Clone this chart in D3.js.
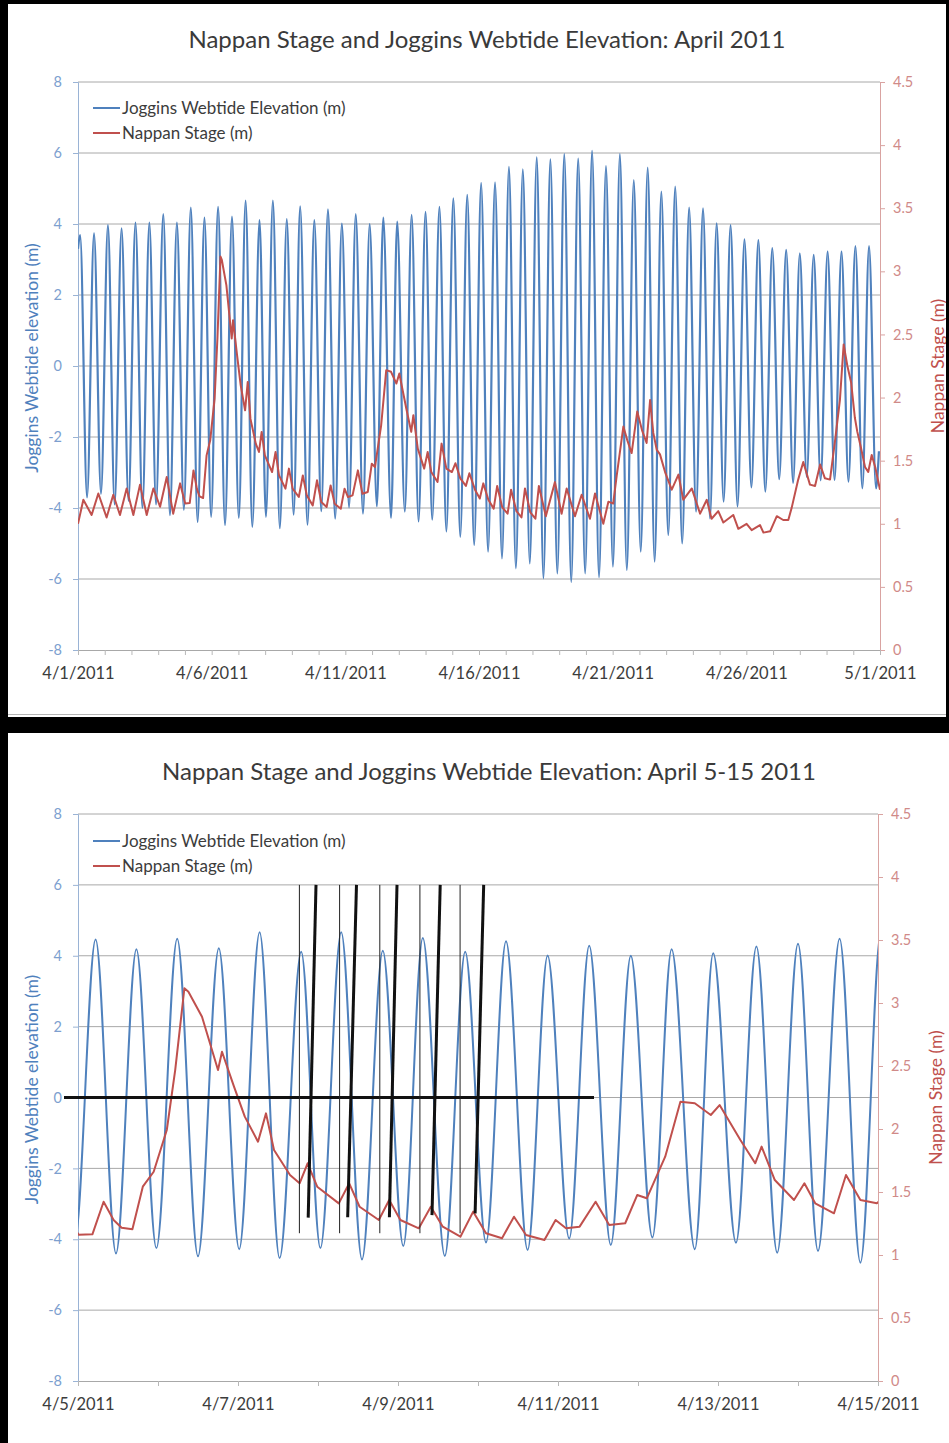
<!DOCTYPE html>
<html>
<head>
<meta charset="utf-8">
<script src="https://cdn.jsdelivr.net/npm/d3@7"></script>
<style>
  html, body { margin: 0; padding: 0; background: #ffffff; }
  svg { display: block; font-family: Lato, "Open Sans", sans-serif; }
</style>
</head>
<body>
<svg id="chart" width="949" height="1443"></svg>
<script>
// ---- Joggins Webtide: high and low water (days after 4/1/2011 00:00, metres) ----
const highTideDays = [0.08,0.60,1.12,1.63,2.15,2.67,3.19,3.70,4.22,4.73,5.24,5.76,6.27,6.79,7.29,7.81,8.31,8.84,9.35,9.87,10.39,10.91,11.42,11.94,12.48,13.00,13.52,14.04,14.56,15.08,15.60,16.12,16.64,17.16,17.67,18.19,18.71,19.23,19.75,20.27,20.79,21.31,21.82,22.34,22.86,23.38,23.89,24.41,24.93,25.45,25.97,26.49,27.00,27.52,28.04,28.56,29.08,29.59];
const highTideElev = [3.69,3.74,3.97,3.88,4.04,4.04,4.28,4.04,4.46,4.18,4.48,4.21,4.66,4.11,4.66,4.14,4.50,4.11,4.41,4.01,4.28,4.00,4.18,4.07,4.26,4.34,4.48,4.72,4.82,5.16,5.17,5.61,5.54,5.88,5.82,5.97,5.84,6.06,5.63,5.97,5.24,5.59,4.91,5.05,4.46,4.44,4.02,3.97,3.57,3.55,3.32,3.27,3.17,3.13,3.22,3.22,3.38,3.38];
const lowTideDays = [0.34,0.86,1.37,1.89,2.41,2.92,3.44,3.96,4.475,4.98,5.50,6.015,6.52,7.03,7.55,8.066,8.585,9.10,9.62,10.14,10.66,11.18,11.71,12.225,12.74,13.25,13.78,14.30,14.82,15.34,15.86,16.38,16.90,17.41,17.93,18.45,18.97,19.49,20.01,20.53,21.05,21.57,22.08,22.60,23.12,23.64,24.15,24.67,25.19,25.71,26.23,26.75,27.26,27.78,28.30,28.82,29.34,29.85];
const lowTideElev = [-3.70,-3.60,-3.90,-3.80,-4.00,-3.90,-4.20,-4.05,-4.40,-4.25,-4.48,-4.28,-4.53,-4.25,-4.57,-4.19,-4.47,-4.09,-4.30,-3.98,-4.16,-3.95,-4.28,-4.10,-4.38,-4.33,-4.66,-4.81,-5.04,-5.23,-5.42,-5.70,-5.56,-5.98,-5.84,-6.08,-5.84,-5.95,-5.65,-5.75,-5.23,-5.51,-4.76,-5.00,-4.10,-4.29,-3.82,-3.96,-3.42,-3.54,-3.19,-3.29,-3.12,-3.22,-3.21,-3.26,-3.45,-3.45];
// first and last record of the month
const tideEdgeDays = [0.00, 29.96];
const tideEdgeElev = [3.30, -2.40];

// ---- Nappan River stage (days after 4/1/2011 00:00, metres) ----
const stageDays = [0.00,0.20,0.51,0.76,1.07,1.32,1.57,1.82,2.07,2.32,2.57,2.82,3.07,3.32,3.56,3.82,
  4.01,4.18,4.32,4.445,4.545,4.68,4.81,4.946,5.11,5.215,5.33,5.38,5.55,5.75,5.80,5.95,6.085,6.25,6.35,6.45,6.65,6.77,6.87,6.99,
  7.26,7.39,7.52,7.76,7.89,8.03,8.26,8.41,8.56,8.78,8.94,9.10,9.30,9.45,9.60,9.83,9.97,10.10,10.27,10.47,10.64,10.84,10.99,11.11,
  11.34,11.53,11.71,11.91,12.02,12.28,12.465,12.545,12.71,12.95,13.08,13.215,13.45,13.60,13.78,13.985,
  14.12,14.30,14.51,14.64,14.85,15.03,15.16,15.35,15.55,15.68,15.87,16.07,16.20,16.40,16.59,16.72,16.92,17.11,17.24,17.50,17.84,
  18.09,18.28,18.59,18.84,19.15,19.34,19.65,19.84,20.02,20.15,20.40,20.55,20.71,20.92,21.10,21.27,21.40,21.52,21.65,21.77,21.96,
  22.21,22.46,22.64,22.96,23.27,23.52,23.70,23.95,24.14,24.51,24.70,25.01,25.20,25.51,25.64,25.89,26.14,26.38,26.57,26.70,26.94,
  27.13,27.38,27.57,27.76,27.94,28.13,28.32,28.50,28.64,28.78,28.92,29.06,29.15,29.28,29.44,29.56,29.69,29.82,30.00];
const stageValues = [1.00,1.19,1.07,1.24,1.05,1.23,1.07,1.28,1.07,1.31,1.07,1.28,1.135,1.37,1.08,1.32,
  1.16,1.164,1.423,1.278,1.217,1.204,1.542,1.661,1.992,2.468,3.117,3.09,2.891,2.468,2.613,2.336,2.098,1.899,2.124,1.833,1.635,1.569,1.728,1.542,
  1.410,1.569,1.383,1.278,1.437,1.278,1.212,1.383,1.225,1.145,1.344,1.172,1.133,1.304,1.159,1.119,1.278,1.212,1.225,1.423,1.238,1.252,1.476,1.45,
  1.78,2.217,2.204,2.111,2.19,1.913,1.728,1.86,1.595,1.437,1.569,1.41,1.331,1.635,1.437,1.41,
  1.48,1.36,1.30,1.40,1.27,1.20,1.32,1.19,1.12,1.30,1.13,1.08,1.27,1.10,1.05,1.28,1.09,1.04,1.30,1.06,1.33,
  1.08,1.28,1.06,1.23,1.04,1.24,1.00,1.175,1.16,1.38,1.77,1.66,1.56,1.89,1.74,1.64,1.98,1.72,1.585,1.55,1.41,
  1.27,1.39,1.19,1.28,1.08,1.19,1.04,1.10,1.01,1.07,0.96,1.00,0.95,0.99,0.93,0.94,1.06,1.03,1.03,1.13,1.35,
  1.49,1.31,1.30,1.47,1.36,1.35,1.66,1.98,2.42,2.25,2.12,1.84,1.73,1.61,1.45,1.41,1.545,1.45,1.27];

// ---- axes ----
const elevTicks = [-8, -6, -4, -2, 0, 2, 4, 6, 8];
const stageTicks = [0, 0.5, 1, 1.5, 2, 2.5, 3, 3.5, 4, 4.5];
const monthTickDays = [0, 5, 10, 15, 20, 25, 30];
const monthTickLabels = ["4/1/2011", "4/6/2011", "4/11/2011", "4/16/2011", "4/21/2011", "4/26/2011", "5/1/2011"];
const detailTickDays = [4, 6, 8, 10, 12, 14];
const detailTickLabels = ["4/5/2011", "4/7/2011", "4/9/2011", "4/11/2011", "4/13/2011", "4/15/2011"];

// ---- hand-drawn markers on the 5-15 April panel ----
const highWaterMarkDays = [6.7675, 7.27, 7.7725, 8.274, 8.776];       // thin verticals
const highWaterMarkElev = [6, -3.83];
const stagePeakTopDays = [6.975, 7.481, 7.9875, 8.5275, 9.071];        // thick leaning lines
const stagePeakBottomDays = [6.8775, 7.371, 7.8925, 8.425, 8.964];
const stagePeakBottomElev = [-3.39, -3.38, -3.38, -3.32, -3.27];
const stagePeakTopElev = 6;
const zeroLineDays = [3.825, 10.45];

const seriesNames = ["Joggins Webtide Elevation (m)", "Nappan Stage (m)"];
const BLUE = "#4f81bd", RED = "#c0504d";
const FONT = "Lato, 'Open Sans', sans-serif";

// tide record: edges plus alternating high and low waters, in time order
const tidePoints = [];
tideEdgeDays.forEach((d, i) => tidePoints.push({ d, v: tideEdgeElev[i] }));
highTideDays.forEach((d, i) => tidePoints.push({ d, v: highTideElev[i] }));
lowTideDays.forEach((d, i) => tidePoints.push({ d, v: lowTideElev[i] }));
tidePoints.sort((a, b) => a.d - b.d);
const stagePoints = stageDays.map((d, i) => ({ d, v: stageValues[i] }));

const svg = d3.select("#chart");
svg.append("rect").attr("x", 0).attr("y", 0).attr("width", 949).attr("height", 1443).attr("fill", "#ffffff");

function drawPanel(cfg, idx) {
  const x = d3.scaleLinear().domain(cfg.days).range([cfg.left, cfg.right]);
  const yL = d3.scaleLinear().domain([-8, 8]).range([cfg.bottom, cfg.top]);
  const yR = d3.scaleLinear().domain([0, 4.5]).range([cfg.bottom, cfg.top]);
  const g = svg.append("g");

  g.append("text")
    .attr("x", cfg.titleX).attr("y", cfg.titleY)
    .attr("text-anchor", "middle")
    .attr("font-size", 24).attr("fill", "#3a3a3a")
    .text(cfg.title);

  // horizontal gridlines
  g.append("g").selectAll("line").data(elevTicks.slice(1)).join("line")
    .attr("x1", cfg.left).attr("x2", cfg.right)
    .attr("y1", d => yL(d)).attr("y2", d => yL(d))
    .attr("stroke", "#a8a8a8").attr("stroke-width", 1);

  // left axis (elevation)
  const la = g.append("g").attr("transform", `translate(${cfg.left},0)`)
    .call(d3.axisLeft(yL).tickValues(elevTicks).tickSize(5).tickPadding(11)
      .tickFormat(d => String(d)));
  la.select(".domain").attr("stroke", "#9ab3d5");
  la.selectAll(".tick line").attr("stroke", "#9ab3d5");
  la.selectAll(".tick text").attr("font-size", 14.5).attr("fill", "#7d9fcf")
    .attr("font-family", FONT);

  // right axis (stage)
  const ra = g.append("g").attr("transform", `translate(${cfg.right},0)`)
    .call(d3.axisRight(yR).tickValues(stageTicks).tickSize(5).tickPadding(8)
      .tickFormat(d => String(d)));
  ra.select(".domain").attr("stroke", "#d9a3a1");
  ra.selectAll(".tick line").attr("stroke", "#d9a3a1");
  ra.selectAll(".tick text").attr("font-size", 14.5).attr("fill", "#d08a88")
    .attr("font-family", FONT);

  // bottom axis: daily ticks, dated labels
  const dayTicks = d3.range(cfg.days[0], cfg.days[1] + 1);
  const ba = g.append("g").attr("transform", `translate(0,${cfg.bottom})`)
    .call(d3.axisBottom(x).tickValues(dayTicks).tickSize(5).tickFormat(""));
  ba.select(".domain").attr("stroke", "#a8a8a8");
  ba.selectAll(".tick line").attr("stroke", "#b8b8b8");
  const lab = g.append("g").attr("transform", `translate(0,${cfg.bottom})`)
    .call(d3.axisBottom(x).tickValues(cfg.tickDays).tickSize(0).tickPadding(17)
      .tickFormat((d, i) => cfg.tickLabels[i]));
  lab.select(".domain").remove();
  lab.selectAll(".tick text").attr("font-size", 16.5).attr("fill", "#3c3c3c")
    .attr("font-family", FONT);

  // axis titles
  const midY = (cfg.top + cfg.bottom) / 2;
  g.append("text")
    .attr("transform", `translate(${cfg.left - 40},${midY - 8}) rotate(-90)`)
    .attr("text-anchor", "middle").attr("font-size", 17.5).attr("fill", BLUE)
    .text("Joggins Webtide elevation (m)");
  g.append("text")
    .attr("transform", `translate(${cfg.right + 64},${midY}) rotate(-90)`)
    .attr("text-anchor", "middle").attr("font-size", 17.5).attr("fill", RED)
    .text("Nappan Stage (m)");

  // series
  const clipId = "plot-clip-" + idx;
  g.append("clipPath").attr("id", clipId).append("rect")
    .attr("x", cfg.left).attr("y", cfg.top - 2)
    .attr("width", cfg.right - cfg.left).attr("height", cfg.bottom - cfg.top + 4);
  const plot = g.append("g").attr("clip-path", `url(#${clipId})`);

  const tideLine = d3.line().curve(d3.curveMonotoneX)
    .x(p => x(p.d)).y(p => yL(p.v));
  plot.append("path").datum(tidePoints).attr("d", tideLine)
    .attr("fill", "none").attr("stroke", BLUE)
    .attr("stroke-width", cfg.tideWidth).attr("stroke-linejoin", "round");

  const stageLine = d3.line().x(p => x(p.d)).y(p => yR(p.v));
  plot.append("path").datum(stagePoints).attr("d", stageLine)
    .attr("fill", "none").attr("stroke", RED)
    .attr("stroke-width", 2).attr("stroke-linejoin", "round");

  // legend
  const leg = g.append("g");
  [BLUE, RED].forEach((c, i) => {
    const ly = cfg.legendY + i * 25;
    leg.append("line").attr("x1", 93).attr("x2", 120).attr("y1", ly).attr("y2", ly)
      .attr("stroke", c).attr("stroke-width", 2);
    leg.append("text").attr("x", 122).attr("y", ly + 6)
      .attr("font-size", 17).attr("fill", "#3c3c3c").text(seriesNames[i]);
  });

  return { x, yL, yR, g };
}

const month = drawPanel({
  top: 82, bottom: 650, left: 78, right: 880, days: [0, 30],
  title: "Nappan Stage and Joggins Webtide Elevation: April 2011", titleX: 487, titleY: 48,
  tickDays: monthTickDays, tickLabels: monthTickLabels, legendY: 108, tideWidth: 2.2
}, 0);

const detail = drawPanel({
  top: 814, bottom: 1381, left: 78, right: 878, days: [4, 14],
  title: "Nappan Stage and Joggins Webtide Elevation: April 5-15 2011", titleX: 489, titleY: 780,
  tickDays: detailTickDays, tickLabels: detailTickLabels, legendY: 841, tideWidth: 2
}, 1);

// markers on the detail panel
const mk = detail.g.append("g");
mk.append("line")
  .attr("x1", detail.x(zeroLineDays[0])).attr("x2", detail.x(zeroLineDays[1]))
  .attr("y1", detail.yL(0)).attr("y2", detail.yL(0))
  .attr("stroke", "#111").attr("stroke-width", 3);
mk.selectAll("line.thin").data(highWaterMarkDays).join("line").attr("class", "thin")
  .attr("x1", d => detail.x(d)).attr("x2", d => detail.x(d))
  .attr("y1", detail.yL(highWaterMarkElev[0])).attr("y2", detail.yL(highWaterMarkElev[1]))
  .attr("stroke", "#222").attr("stroke-width", 1);
mk.selectAll("line.thick").data(stagePeakTopDays).join("line").attr("class", "thick")
  .attr("x1", d => detail.x(d)).attr("y1", detail.yL(stagePeakTopElev))
  .attr("x2", (d, i) => detail.x(stagePeakBottomDays[i]))
  .attr("y2", (d, i) => detail.yL(stagePeakBottomElev[i]))
  .attr("stroke", "#111").attr("stroke-width", 3);

// chart-area edge and black frame
svg.append("line").attr("x1", 8).attr("x2", 949).attr("y1", 714.5).attr("y2", 714.5)
  .attr("stroke", "#b5b5b5").attr("stroke-width", 1);
const frame = svg.append("g").attr("fill", "#000");
frame.append("rect").attr("x", 0).attr("y", 0).attr("width", 8).attr("height", 1443);
frame.append("rect").attr("x", 0).attr("y", 0).attr("width", 949).attr("height", 4);
frame.append("rect").attr("x", 946).attr("y", 0).attr("width", 3).attr("height", 733);
frame.append("rect").attr("x", 0).attr("y", 717).attr("width", 949).attr("height", 16);
</script>
</body>
</html>
